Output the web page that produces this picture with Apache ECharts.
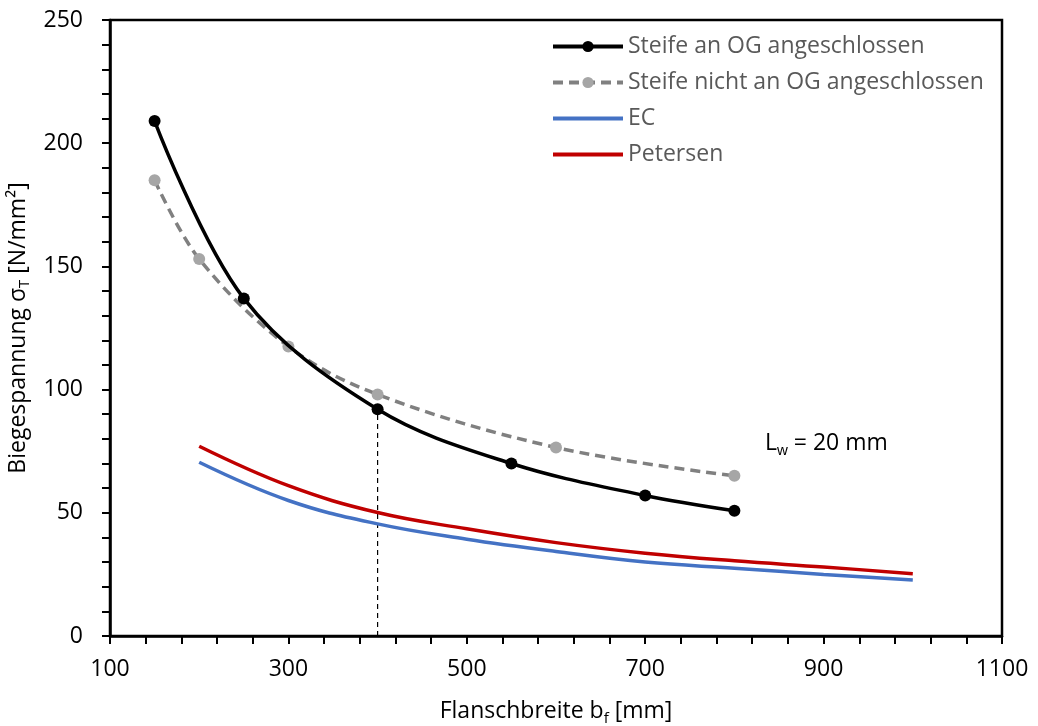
<!DOCTYPE html>
<html><head><meta charset="utf-8">
<script src="https://cdn.jsdelivr.net/npm/echarts@6/dist/echarts.min.js"></script>
<style>html,body{margin:0;padding:0;background:#fff}#c{width:1038px;height:726px}</style>
</head><body><div id="c"></div>
<script>
const xTicks = [100, 300, 500, 700, 900, 1100];
const steifeAnX = [150, 250, 400, 550, 700, 800];
const steifeAnY = [209, 137, 92, 70, 57, 50.8];
const steifeNichtX = [150, 200, 300, 400, 600, 800];
const steifeNichtY = [185, 153, 117.5, 98, 76.5, 65];
const ecX = [200, 300, 400, 500, 600, 700, 800, 900, 1000];
const ecY = [70.5, 55, 45.5, 39.3, 34.3, 30, 27.5, 25, 22.7];
const petX = [200, 300, 400, 500, 600, 700, 800, 900, 1000];
const petY = [77, 61, 50.1, 43.5, 37.9, 33.6, 30.5, 28, 25.3];
const refX = [400, 400];
const refY = [0, 92];
const names = ['Steife an OG angeschlossen', 'Steife nicht an OG angeschlossen', 'EC', 'Petersen'];

const zip = (a, b) => a.map((v, i) => [v, b[i]]);
const FONT = 'Open Sans';
const FS = 23;
const chart = echarts.init(document.getElementById('c'));
chart.setOption({
  animation: false,
  textStyle: { fontFamily: FONT },
  grid: { left: 110, right: 36, top: 20, bottom: 90, containLabel: false, outerBoundsMode: 'none',
    show: true, borderColor: '#000', borderWidth: 2.5 },
  legend: {
    data: [
      { name: names[0] },
      { name: names[1] },
      { name: names[2], itemStyle: { opacity: 0 } },
      { name: names[3], itemStyle: { opacity: 0 } }
    ],
    orient: 'vertical', left: 546, top: 30,
    itemWidth: 70, itemHeight: 14, itemGap: 13,
    lineStyle: { width: 4 },
    textStyle: { fontSize: FS, color: '#595959', fontFamily: FONT }
  },
  xAxis: {
    type: 'value', min: 100, max: 1100, interval: 200,
    name: 'Flanschbreite b{s|f} [mm]',
    nameLocation: 'middle', nameGap: 61,
    nameTextStyle: { fontSize: FS, color: '#000', fontFamily: FONT,
      rich: { s: { fontSize: 15, verticalAlign: 'bottom', padding: [14, 0, 0, 0], color: '#000' } } },
    axisLine: { lineStyle: { color: '#000', width: 2.5 } },
    axisTick: { inside: false, length: 8, lineStyle: { color: '#000', width: 2 } },
    minorTick: { show: true, splitNumber: 5, length: 8, lineStyle: { color: '#000', width: 2 } },
    axisLabel: { fontSize: FS, color: '#000', margin: 22, fontFamily: FONT, formatter: v => String(v) },
    splitLine: { show: false }
  },
  yAxis: {
    type: 'value', min: 0, max: 250, interval: 50,
    name: 'Biegespannung σ{s|T} [N/mm²]',
    nameLocation: 'middle', nameGap: 74,
    nameTextStyle: { fontSize: FS, color: '#000', fontFamily: FONT,
      rich: { s: { fontSize: 15, color: '#000', padding: [14, 0, 0, 0] } } },
    axisLine: { lineStyle: { color: '#000', width: 2.5 } },
    axisTick: { inside: false, length: 8, lineStyle: { color: '#000', width: 2 } },
    minorTick: { show: true, splitNumber: 5, length: 8, lineStyle: { color: '#000', width: 2 } },
    axisLabel: { fontSize: FS, color: '#000', margin: 27, fontFamily: FONT },
    splitLine: { show: false }
  },
  series: [
    { name: 'ref', type: 'line', data: zip(refX, refY), symbol: 'none', silent: true,
      lineStyle: { color: '#000', width: 1.2, type: [5, 4] }, z: 1 },
    { name: names[2], type: 'line', data: zip(ecX, ecY), smooth: 0.4, symbol: 'none',
      itemStyle: { color: '#4472C4' }, lineStyle: { color: '#4472C4', width: 3.5 }, z: 2 },
    { name: names[3], type: 'line', data: zip(petX, petY), smooth: 0.4, symbol: 'none',
      itemStyle: { color: '#C00000' }, lineStyle: { color: '#C00000', width: 3.5 }, z: 3 },
    { name: names[1], type: 'line', data: zip(steifeNichtX, steifeNichtY), smooth: 0.35,
      symbol: 'circle', symbolSize: 12, itemStyle: { color: '#A6A6A6' },
      lineStyle: { color: '#808080', width: 3.5, type: [10, 6] }, z: 4 },
    { name: names[0], type: 'line', data: zip(steifeAnX, steifeAnY), smooth: 0.35,
      symbol: 'circle', symbolSize: 12, itemStyle: { color: '#000' },
      lineStyle: { color: '#000', width: 3.5 }, z: 5 }
  ],
  graphic: [{
    type: 'text', left: 765, top: 432,
    style: { text: 'L{s|w} = 20 mm', fontSize: FS, fill: '#000', fontFamily: FONT,
      rich: { s: { fontSize: 15, padding: [14, 0, 0, 0], fill: '#000' } } }
  }]
});
</script></body></html>
